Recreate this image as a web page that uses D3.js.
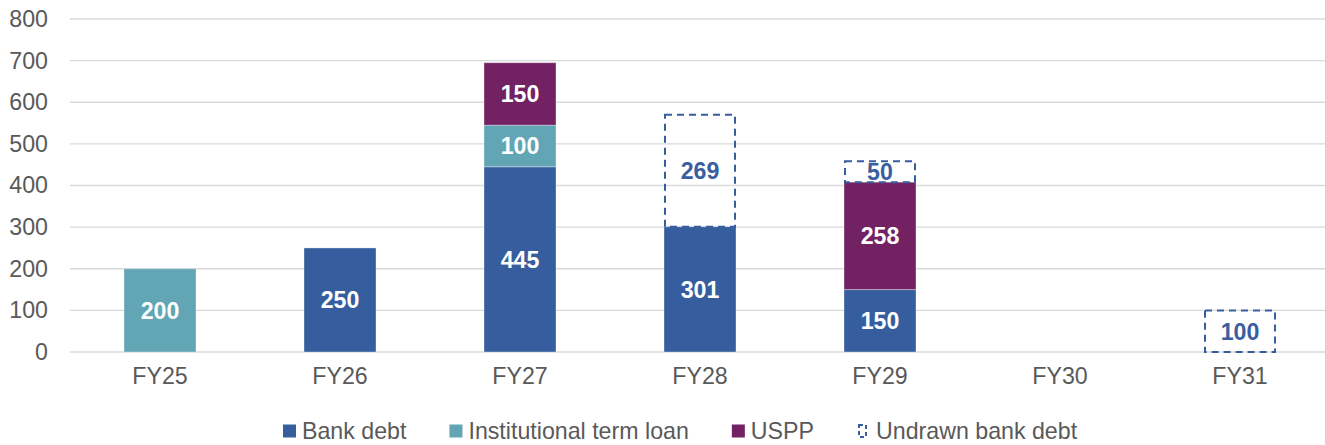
<!DOCTYPE html>
<html>
<head>
<meta charset="utf-8">
<script src="https://cdn.jsdelivr.net/npm/d3@7"></script>
<style>
  html, body { margin: 0; padding: 0; background: #fff; }
  svg { display: block; font-family: "Liberation Sans", Arial, sans-serif; }
</style>
</head>
<body>
<svg id="chart" width="1325" height="445"></svg>
<script>
// ---- data ----
const categories = ["FY25", "FY26", "FY27", "FY28", "FY29", "FY30", "FY31"];
const bankDebt   = [0, 250, 445, 301, 150, 0, 0];
const instLoan   = [200, 0, 100, 0, 0, 0, 0];
const usppDebt   = [0, 0, 150, 0, 258, 0, 0];
const undrawn    = [0, 0, 0, 269, 50, 0, 100];
const yTicks     = [0, 100, 200, 300, 400, 500, 600, 700, 800];
const seriesNames = ["Bank debt", "Institutional term loan", "USPP", "Undrawn bank debt"];

(function () {
// ---- layout ----
const svg = d3.select("#chart");
const mLeft = 70, mRight = 1330, mTop = 19, mBottom = 352;
const FONT = 23.2;
const colors = {
  "Bank debt": "#365E9E",
  "Institutional term loan": "#62A5B5",
  "USPP": "#722262",
  "Undrawn bank debt": "#365E9E"
};

const x = d3.scaleBand().domain(categories).range([mLeft, mRight]).paddingInner(0.6).paddingOuter(0.3);
const y = d3.scaleLinear().domain([0, 800]).range([mBottom, mTop]);

// gridlines
svg.append("g")
  .selectAll("line")
  .data(yTicks)
  .join("line")
  .attr("x1", mLeft).attr("x2", 1325)
  .attr("y1", d => y(d)).attr("y2", d => y(d))
  .attr("stroke", "#d9d9d9").attr("stroke-width", 1.4);

// y axis labels
const yAxis = d3.axisLeft(y).tickValues(yTicks).tickSize(0).tickPadding(0);
const yg = svg.append("g").attr("transform", `translate(48,0)`).call(yAxis);
yg.select(".domain").remove();
yg.selectAll("text").attr("font-size", FONT).attr("fill", "#595959")
  .attr("font-family", "Liberation Sans, Arial, sans-serif");

// x axis labels
const xAxis = d3.axisBottom(x).tickSize(0).tickPadding(0);
const xg = svg.append("g").attr("transform", `translate(0,${mBottom + 16})`).call(xAxis);
xg.select(".domain").remove();
xg.selectAll("text").attr("font-size", FONT).attr("fill", "#595959")
  .attr("font-family", "Liberation Sans, Arial, sans-serif");

// stacked data
const table = categories.map((c, i) => ({
  cat: c,
  "Bank debt": bankDebt[i],
  "Institutional term loan": instLoan[i],
  "USPP": usppDebt[i],
  "Undrawn bank debt": undrawn[i]
}));
const stack = d3.stack().keys(seriesNames)(table);

const bw = x.bandwidth();
stack.forEach(layer => {
  const key = layer.key;
  const isUndrawn = key === "Undrawn bank debt";
  const g = svg.append("g");
  const segs = layer.filter(d => d[1] - d[0] > 0);
  g.selectAll("rect")
    .data(segs)
    .join("rect")
    .attr("x", d => x(d.data.cat) + (isUndrawn ? 1 : 0))
    .attr("width", bw - (isUndrawn ? 2 : 0))
    .attr("y", d => y(d[1]))
    .attr("height", d => y(d[0]) - y(d[1]))
    .attr("fill", isUndrawn ? "none" : colors[key])
    .attr("stroke", isUndrawn ? colors[key] : "rgba(255,255,255,0.35)")
    .attr("stroke-width", isUndrawn ? 2 : 1)
    .attr("stroke-dasharray", isUndrawn ? "7,5" : null);
  g.selectAll("text")
    .data(segs)
    .join("text")
    .attr("x", d => x(d.data.cat) + bw / 2)
    .attr("y", d => (y(d[0]) + y(d[1])) / 2)
    .attr("dy", "0.36em")
    .attr("text-anchor", "middle")
    .attr("font-size", FONT)
    .attr("font-weight", "bold")
    .attr("fill", isUndrawn ? "#3A5E9F" : "#ffffff")
    .text(d => d[1] - d[0]);
});

// legend
const legend = svg.append("g");
let lx = 283;
const ly = 431;
seriesNames.forEach(name => {
  const isUndrawn = name === "Undrawn bank debt";
  if (isUndrawn) {
    legend.append("rect")
      .attr("x", lx + 2).attr("y", ly - 6).attr("width", 7).attr("height", 12)
      .attr("fill", "none").attr("stroke", colors[name]).attr("stroke-width", 2)
      .attr("stroke-dasharray", "4,3");
  } else {
    legend.append("rect")
      .attr("x", lx).attr("y", ly - 6.5).attr("width", 13).attr("height", 13)
      .attr("fill", colors[name]);
  }
  const t = legend.append("text")
    .attr("x", lx + 19).attr("y", ly).attr("dy", "0.36em")
    .attr("font-size", FONT).attr("fill", "#595959")
    .text(name);
  lx += 19 + t.node().getComputedTextLength() + 43;
});
})();
</script>
</body>
</html>
